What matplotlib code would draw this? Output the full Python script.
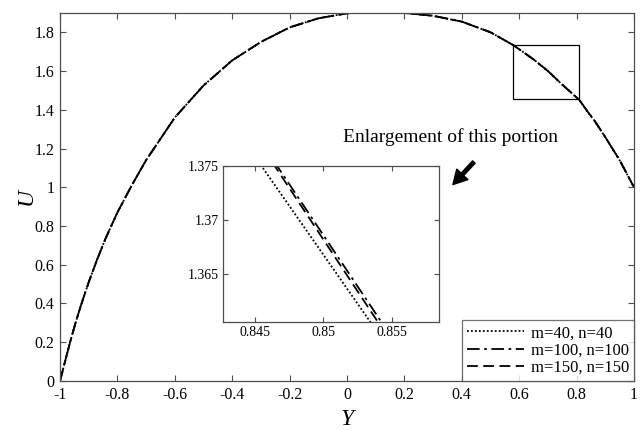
import matplotlib
matplotlib.use("Agg")
import matplotlib.pyplot as plt
from matplotlib.patches import Rectangle
import matplotlib.ticker as plticker

plt.rcParams['font.family'] = ['Liberation Serif', 'DejaVu Serif']
plt.rcParams['axes.unicode_minus'] = False

# velocity profile U(Y) for the three grids
Y = [-1.0, -0.98, -0.965, -0.945, -0.925, -0.9, -0.87, -0.84, -0.8, -0.75, -0.7,
     -0.6, -0.5, -0.4, -0.3, -0.2, -0.1, 0.0, 0.1, 0.2, 0.3, 0.4, 0.5, 0.58,
     0.65, 0.7, 0.75, 0.81, 0.84, 0.86, 0.9, 0.95, 1.0]
U_common = [0.0, 0.115, 0.2, 0.305, 0.4, 0.51, 0.63, 0.74, 0.87, 1.01, 1.14,
            1.36, 1.525, 1.655, 1.75, 1.825, 1.872, 1.898, 1.905, 1.9, 1.885,
            1.855, 1.8, 1.733, 1.66, 1.6, 1.53, 1.45]
U_40 = U_common + [1.3850, 1.3486, 1.258, 1.14, 1.0]
U_100 = U_common + [1.3876, 1.3496, 1.259, 1.14, 1.0]
U_150 = U_common + [1.3874, 1.3490, 1.259, 1.14, 1.0]

labels = ["m=40, n=40", "m=100, n=100", "m=150, n=150"]
styles = [(0, (1, 1.2)), (0, (7, 2.5, 1.5, 2.5)), (0, (6, 3))]

fig = plt.figure(figsize=(6.42, 4.30), dpi=100)
ax = fig.add_axes([0.0935, 0.114, 0.894, 0.856])

for u, lab, ls in zip([U_40, U_100, U_150], labels, styles):
    ax.plot(Y, u, color='k', linestyle=ls, linewidth=1.3, label=lab)

ax.set_xlim(-1, 1)
ax.set_ylim(0, 1.9)
ax.set_xticks([-1, -0.8, -0.6, -0.4, -0.2, 0, 0.2, 0.4, 0.6, 0.8, 1])
ax.set_yticks([0, 0.2, 0.4, 0.6, 0.8, 1, 1.2, 1.4, 1.6, 1.8])
ax.xaxis.set_major_formatter(plticker.FormatStrFormatter('%g'))
ax.yaxis.set_major_formatter(plticker.FormatStrFormatter('%g'))
ax.tick_params(direction='in', top=True, right=True, length=4, width=0.8,
               labelsize=11.5, color='0.3', pad=4)
for s in ax.spines.values():
    s.set_color('0.3')
    s.set_linewidth(0.9)
ax.set_xlabel("Y", fontsize=17, style='italic')
ax.set_ylabel("U", fontsize=17, style='italic')
ax.xaxis.set_label_coords(0.5, -0.075)
ax.yaxis.set_label_coords(-0.04, 0.5)

# box around the enlarged portion
ax.add_patch(Rectangle((0.578, 1.454), 0.23, 0.279, fill=False,
                       edgecolor='k', linewidth=0.9))
ax.text(0.36, 1.236, "Enlargement of this portion", fontsize=14,
        ha='center', va='baseline')
ax.annotate("", xy=(0.369, 1.014), xytext=(0.442, 1.13),
            arrowprops=dict(facecolor='k', edgecolor='k', width=2.5,
                            headwidth=11, headlength=10, shrink=0))

leg = ax.legend(loc='lower right', fontsize=12, borderaxespad=0,
                fancybox=False, edgecolor='0.3', handlelength=3.4,
                labelspacing=0.08, borderpad=0.3, handletextpad=0.4)
leg.get_frame().set_linewidth(0.9)

# inset
axi = fig.add_axes([0.3474, 0.2512, 0.3364, 0.3628])
for u, ls in zip([U_40, U_100, U_150], styles):
    axi.plot(Y, u, color='k', linestyle=ls, linewidth=1.3)
axi.set_xlim(0.8427, 0.8584)
axi.set_ylim(1.3606, 1.375)
axi.set_xticks([0.845, 0.85, 0.855])
axi.set_yticks([1.365, 1.37, 1.375])
axi.xaxis.set_major_formatter(plticker.FormatStrFormatter('%g'))
axi.yaxis.set_major_formatter(plticker.FormatStrFormatter('%g'))
axi.tick_params(direction='in', top=True, right=True, length=3.5, width=0.8,
                labelsize=10, color='0.3', pad=3)
for s in axi.spines.values():
    s.set_color('0.3')
    s.set_linewidth(0.9)

fig.savefig("out.png", dpi=100)
